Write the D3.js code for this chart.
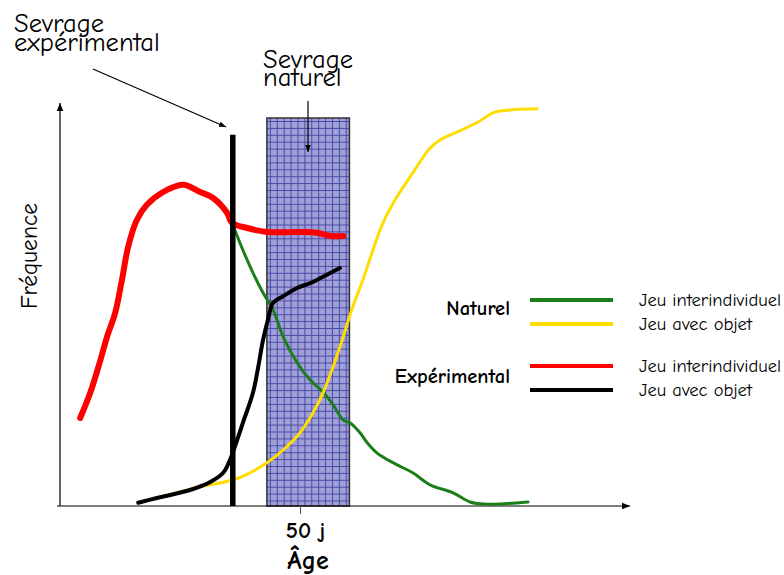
<!DOCTYPE html>
<html><head><meta charset="utf-8">
<script src="https://cdn.jsdelivr.net/npm/d3@7"></script>
<style>
body{margin:0;background:#fff;}
text{font-family:"Comic Sans MS","Comic Neue","DejaVu Sans",sans-serif;}
</style></head>
<body>
<svg id="chart" width="784" height="575"></svg>
<script>
// ---- data (age in days, frequency in arbitrary units 0-100) ----
const naturelInter = [[4.2,22],[6.3,28.3],[8.3,36],[9.8,42.3],[11.5,48.3],[12.9,56.5],[14.2,64.8],[16,71.5],[18.1,75.3],[21.5,78.5],[25.6,80.3],[29.2,78.5],[31.9,77],[34.8,73.3],[35.8,70.8],[38.1,64],[40.2,58.3],[42.3,53.3],[44.4,49],[46.5,42.3],[49.4,35.8],[52.1,31.5],[54.8,28.5],[56.9,25.3],[59,21.5],[60.4,20.8],[62.5,18.3],[64,15.8],[66,13.3],[69.4,10.8],[73.5,8.3],[77.1,5.3],[81.9,3.3],[85.4,1],[88.1,0.5],[93.1,0.6],[97.5,1]];
const naturelObjet = [[21.9,2.5],[29.2,4.8],[36,6.5],[39.6,8.3],[43.1,10.8],[46.5,14],[50,18.3],[52.7,23.3],[54.8,28.3],[56.9,34.8],[59,42.3],[61,49.8],[63.1,56.5],[65.2,64],[67.3,70.8],[70.2,77.3],[73.5,83.3],[77.1,89.5],[79.2,91.5],[82.7,93.5],[87.1,96],[90.2,98.3],[93.8,99],[99.4,99.3]];
const expInter = [[4.2,22],[6.3,28.3],[8.3,36],[9.8,42.3],[11.5,48.3],[12.9,56.5],[14.2,64.8],[16,71.5],[18.1,75.3],[21.5,78.5],[25.6,80.3],[29.2,78.5],[31.9,77],[34.8,73.3],[35.8,70.8],[39,69.5],[43.1,68.5],[50,68.5],[53.5,68.3],[56.3,67.5],[59,67.5]];
const expObjet = [[16.3,0.8],[20.2,2],[27.1,4],[31.3,6],[34,8.3],[35.4,11.5],[36.9,16.5],[38.1,20.8],[40.2,28.3],[41.3,34.8],[42.3,41.5],[43.3,46.5],[44.4,50.8],[46.3,52.3],[49.4,54.5],[52.7,56],[55.6,57.8],[58.3,59.5]];
const sevrageExperimental = 36;        // day
const sevrageNaturel = [43.1, 60.3];   // days
const xTicks = [50];
const groups = ["Naturel", "Expérimental"];
const seriesLabels = ["Jeu interindividuel", "Jeu avec objet"];
const colors = ["#1a7f1a", "#ffdd00", "#ff0000", "#000000"];

// ---- layout ----
const svg = d3.select("#chart");
const x = d3.scaleLinear().domain([0, 118.75]).range([60, 630]);
const y = d3.scaleLinear().domain([0, 100]).range([506, 106]);

const defs = svg.append("defs");
function arrowMarker(id, size){
  defs.append("marker").attr("id", id).attr("viewBox","0 0 10 10")
    .attr("refX",10).attr("refY",5).attr("markerWidth",size).attr("markerHeight",size)
    .attr("orient","auto").attr("markerUnits","userSpaceOnUse")
    .append("path").attr("d","M0,1L10,5L0,9Z").attr("fill","#000");
}
arrowMarker("arr", 8);
arrowMarker("arrS", 7);

const pat = defs.append("pattern").attr("id","grid").attr("patternUnits","userSpaceOnUse")
  .attr("width",6.9).attr("height",6.9).attr("x", x(sevrageNaturel[0])+3).attr("y", y(97)+3);
pat.append("rect").attr("width",6.9).attr("height",6.9).attr("fill","#a0a0d8");
pat.append("path").attr("d","M0,0.5H6.9M0.5,0V6.9").attr("stroke","#4a4aa8").attr("stroke-width",1);

// natural weaning box
svg.append("rect")
  .attr("x", x(sevrageNaturel[0])).attr("y", y(97))
  .attr("width", x(sevrageNaturel[1]) - x(sevrageNaturel[0]))
  .attr("height", y(0) - y(97))
  .attr("fill","url(#grid)").attr("stroke","#333").attr("stroke-width",1.5);

// axes
svg.append("line").attr("x1",57).attr("y1",y(0)).attr("x2",x(118.75)).attr("y2",y(0))
  .attr("stroke","#000").attr("stroke-width",1.2).attr("marker-end","url(#arr)");
svg.append("line").attr("x1",x(0)).attr("y1",y(0)).attr("x2",x(0)).attr("y2",103)
  .attr("stroke","#000").attr("stroke-width",1.2).attr("marker-end","url(#arr)");

const xAxis = svg.append("g").attr("transform",`translate(0,${y(0)})`)
  .call(d3.axisBottom(x).tickValues(xTicks).tickFormat(d => d + " j").tickSize(8).tickSizeOuter(0));
xAxis.select(".domain").remove();
xAxis.selectAll(".tick line").attr("stroke","#555");
xAxis.selectAll(".tick text").attr("y",32).attr("dy",0).attr("dx",5)
  .style("font-size","23px").style("font-weight","bold").attr("fill","#000");

// curves
const line = d3.line().x(d => x(d[0])).y(d => y(d[1])).curve(d3.curveCatmullRom.alpha(0.5));
const series = [
  {data: naturelInter, color: colors[0], w: 3},
  {data: naturelObjet, color: colors[1], w: 3},
  {data: expInter, color: colors[2], w: 6},
  {data: expObjet, color: colors[3], w: 4}
];
svg.selectAll("path.curve").data(series).join("path").attr("class","curve")
  .attr("d", d => line(d.data)).attr("fill","none")
  .attr("stroke", d => d.color).attr("stroke-width", d => d.w)
  .attr("stroke-linejoin","round").attr("stroke-linecap","round");

// experimental weaning bar
svg.append("line").attr("x1", x(sevrageExperimental)).attr("x2", x(sevrageExperimental))
  .attr("y1", y(0)).attr("y2", y(92.8)).attr("stroke","#000").attr("stroke-width",5.5);

// annotations
svg.append("line").attr("x1",93).attr("y1",69).attr("x2",226).attr("y2",127)
  .attr("stroke","#000").attr("stroke-width",1.2).attr("marker-end","url(#arrS)");
svg.append("line").attr("x1",308).attr("y1",101).attr("x2",308).attr("y2",152)
  .attr("stroke","#000").attr("stroke-width",1.2).attr("marker-end","url(#arrS)");

const ann = svg.append("g").style("font-size","26.5px").attr("fill","#000");
ann.append("text").attr("x",14).attr("y",32).text("Sevrage");
ann.append("text").attr("x",14).attr("y",51).text("expérimental");
ann.append("text").attr("x",263).attr("y",68).text("Sevrage");
ann.append("text").attr("x",263).attr("y",86).text("naturel");

// axis titles
svg.append("text").attr("transform","translate(37,256) rotate(-90)").attr("text-anchor","middle")
  .style("font-size","23.5px").text("Fréquence");
svg.append("text").attr("x",308).attr("y",569).attr("text-anchor","middle")
  .style("font-size","26px").style("font-weight","bold").text("Âge");

// legend
const legY = [[300, 324], [366, 390]];
const legTitleY = [315, 383];
groups.forEach((g, gi) => {
  svg.append("text").attr("x",510).attr("y",legTitleY[gi]).attr("text-anchor","end")
    .style("font-size","20.5px").style("font-weight","bold").text(g);
  seriesLabels.forEach((s, si) => {
    const yy = legY[gi][si];
    svg.append("line").attr("x1",530).attr("x2",613).attr("y1",yy).attr("y2",yy)
      .attr("stroke", colors[gi*2+si]).attr("stroke-width",4);
    svg.append("text").attr("x",639).attr("y",yy+6).style("font-size","18.5px").text(s);
  });
});
</script>
</body></html>
